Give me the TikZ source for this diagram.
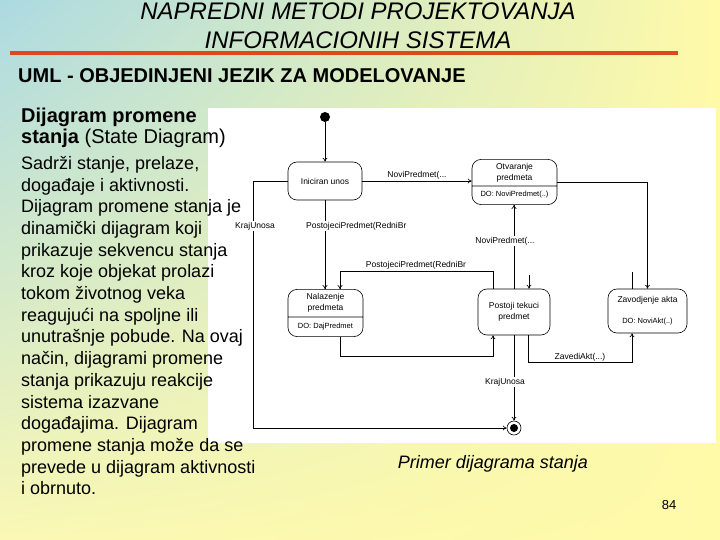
\documentclass[tikz,border=0pt]{standalone}
\usepackage{fontspec}
\setmainfont{Liberation Sans}
\usepackage{tikz}
\usetikzlibrary{arrows.meta,positioning,shapes.multipart,shadings,calc}
\definecolor{bgteal}{RGB}{172,218,226}
\definecolor{bgyellow}{RGB}{255,250,168}
\definecolor{bgcream}{RGB}{250,248,180}
\definecolor{rulered}{RGB}{222,72,30}
\newcommand{\doact}[1]{\rule[-4pt]{0pt}{11pt}{\fontsize{7.5}{9}\selectfont #1}}

\begin{document}
\begin{tikzpicture}[x=1pt, y=-1pt,
    state/.style={draw, rounded corners=9pt, align=center, inner sep=2pt,
                  line width=0.6pt, font=\fontsize{8.5}{11}\selectfont},
    splitstate/.style={state, rectangle split, rectangle split parts=2},
    startnode/.style={circle, fill=black, minimum size=10pt, inner sep=0},
    endnode/.style={circle, draw, line width=0.6pt, minimum size=14pt, inner sep=0,
                    path picture={\fill (path picture bounding box.center) circle (4pt);}},
    evt/.style={font=\fontsize{8.5}{10}\selectfont, inner sep=1pt},
    evtw/.style={evt, fill=white},
    arr/.style={-{To[length=4pt,width=5pt]}, line width=0.6pt},
    body/.style={align=left, anchor=north west, inner sep=0}]

    \useasboundingbox (0,0) rectangle (720,540);
    \shade[upper left=bgteal, upper right=bgyellow, lower left=bgcream, lower right=bgyellow]
        (0,0) rectangle (720,540);
    \fill[white] (208,108) rectangle (716,443);

    \node[font=\fontsize{24}{29}\selectfont\itshape, align=center] (title) at (358,25.5)
        {NAPREDNI METODI PROJEKTOVANJA\\INFORMACIONIH SISTEMA};
    \draw[rulered, line width=3.5pt] (10,53) -- (678,53);
    \node[font=\fontsize{20}{24}\selectfont\bfseries, anchor=west, inner sep=0] (uml) at (18,76)
        {UML - OBJEDINJENI JEZIK ZA MODELOVANJE};

    \node[startnode] (start) at (325,117) {};
    \node[state, minimum width=74pt, minimum height=38pt] (ini) at (325,181) {Iniciran unos};
    \node[splitstate, inner ysep=3.5pt, minimum width=85pt] (otv) at (514.5,182)
        {Otvaranje\\predmeta \nodepart{two} \doact{DO: NoviPredmet(..)}};
    \node[splitstate, inner ysep=4pt, minimum width=75pt] (nal) at (325.5,313)
        {Nalazenje\\predmeta \nodepart{two} \doact{DO: DajPredmet}};
    \node[state, minimum width=72pt, minimum height=46pt] (pos) at (514,312)
        {Postoji tekuci\\predmet};
    \node[state, minimum width=79pt, minimum height=44pt] (zav) at (647.5,311)
        {Zavodjenje akta\\[10pt]{\fontsize{7.5}{9}\selectfont DO: NoviAkt(..)}};
    \node[endnode] (fin) at (514,428) {};

    \coordinate (kraj) at (253,428);
    \coordinate (ppturn) at (340,271);
    \coordinate (stubpos) at (529,275);
    \coordinate (stubzav) at (632,272);

    \draw[arr] (start) -- (ini);
    \draw[arr] (ini.east) -- (ini.east -| otv.west) node[evt, midway, above] {NoviPredmet(...};
    \draw[arr] (ini.south) -- (ini.south |- nal.north);
    \draw[arr] (ini.west) -| (kraj) -- (fin);
    \draw[arr] ([xshift=-21pt]pos.north) |- (ppturn) -- (ppturn |- nal.north);
    \draw[arr] (pos.north) -- (pos.north |- otv.south);
    \draw[arr] (stubpos) -- (stubpos |- pos.north);
    \draw[arr] (otv.east) -| (zav.north);
    \draw (stubzav) -- (stubzav |- zav.north);
    \draw[arr] ([xshift=14.5pt]nal.south) -- ++(0,19) -| ([xshift=-21pt]pos.south);
    \draw[arr] ([xshift=14pt]pos.south) -- ++(0,27) -| ([xshift=-15.5pt]zav.south)
        node[evt, pos=0.25, above] {ZavediAkt(...)};
    \draw[arr] (pos.south) -- (fin);

    \node[evtw] (lblkraj) at (255,226) {KrajUnosa};
    \node[evtw, anchor=west] (lblpp) at (305,226) {PostojeciPredmet(RedniBr};
    \node[evt, anchor=south] (lblpp2) at (416,270) {PostojeciPredmet(RedniBr};
    \node[evtw] (lblnovi) at (505,241) {NoviPredmet(...};
    \node[evtw] (lblkraj2) at (505,382) {KrajUnosa};

    \node[body, font=\fontsize{20}{21}\selectfont] (head) at (21,107.5)
        {\textbf{Dijagram promene}\\\textbf{stanja} (State Diagram)};
    \node[body, font=\fontsize{18}{21.7}\selectfont] (desc) at (21,156)
        {Sadrži stanje, prelaze,\\događaje i aktivnosti.\\Dijagram promene stanja je\\
         dinamički dijagram koji\\prikazuje sekvencu stanja\\kroz koje objekat prolazi\\
         tokom životnog veka\\reagujući na spoljne ili\\unutrašnje pobude. Na ovaj\\
         način, dijagrami promene\\stanja prikazuju reakcije\\sistema izazvane\\
         događajima. Dijagram\\promene stanja može da se\\prevede u dijagram aktivnosti\\
         i obrnuto.};

    \node[font=\fontsize{18}{20}\selectfont\itshape] (caption) at (493,464) {Primer dijagrama stanja};
    \node[font=\fontsize{13}{14}\selectfont] (page) at (669,505) {84};
\end{tikzpicture}
\end{document}
